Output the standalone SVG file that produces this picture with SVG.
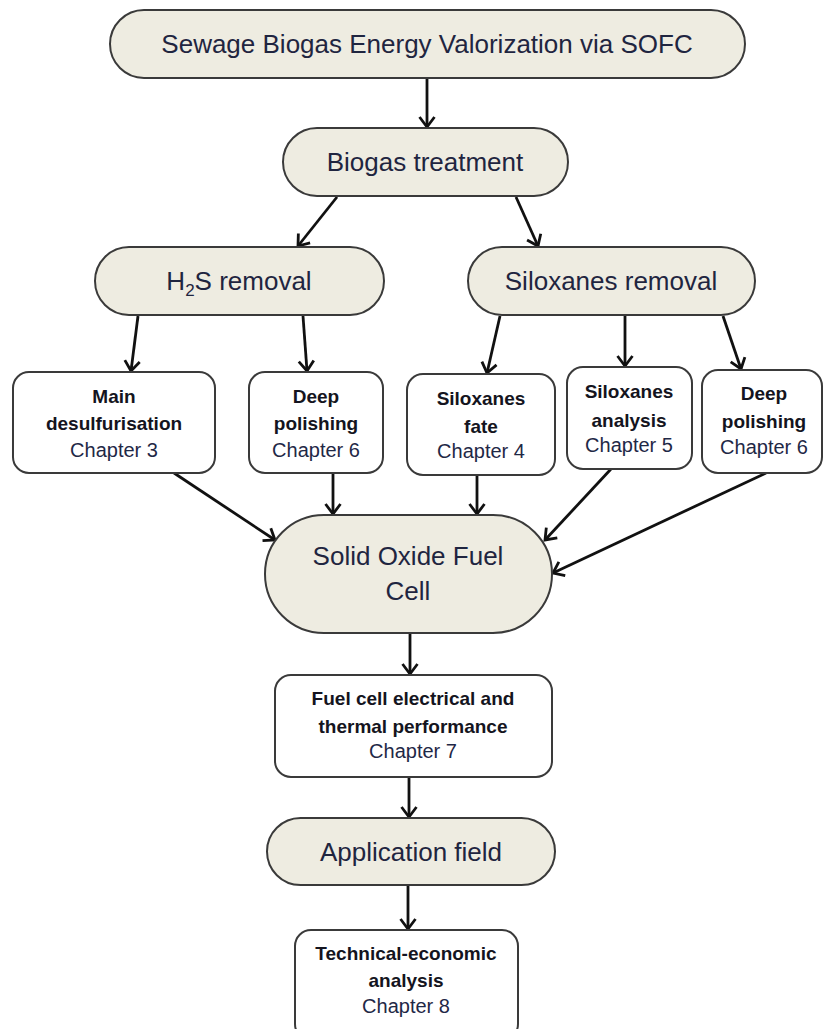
<svg xmlns="http://www.w3.org/2000/svg" width="826" height="1029" viewBox="0 0 826 1029">
<defs>
<style>
.pill{fill:#EEECE1;stroke:#3a3a3a;stroke-width:2}
.box{fill:#ffffff;stroke:#3a3a3a;stroke-width:2}
.big{font-family:"Liberation Sans",Arial,sans-serif;font-size:26px;fill:#1f2540;text-anchor:middle}
.b{font-family:"Liberation Sans",Arial,sans-serif;font-size:19px;font-weight:bold;fill:#141420;text-anchor:middle}
.r{font-family:"Liberation Sans",Arial,sans-serif;font-size:20px;fill:#1f2846;text-anchor:middle}
.c{fill:none;stroke:#111111;stroke-width:2.8;marker-end:url(#ah)}
</style>
<marker id="ah" markerUnits="userSpaceOnUse" markerWidth="22" markerHeight="20" viewBox="0 0 22 20" refX="12" refY="10" orient="auto">
<path d="M2,2.5 L12,10 L2,17.5" fill="none" stroke="#111111" stroke-width="2.8"/>
</marker>
</defs>
<g id="connectors">
<line class="c" x1="427" y1="79" x2="427" y2="127"/>
<line class="c" x1="337" y1="197" x2="298" y2="246"/>
<line class="c" x1="516" y1="197" x2="538" y2="246"/>
<line class="c" x1="138" y1="316" x2="131" y2="371"/>
<line class="c" x1="303" y1="316" x2="307" y2="371"/>
<line class="c" x1="500" y1="316" x2="487" y2="373"/>
<line class="c" x1="625" y1="316" x2="625" y2="366"/>
<line class="c" x1="723" y1="316" x2="741" y2="369"/>
<line class="c" x1="174" y1="473" x2="275" y2="540"/>
<line class="c" x1="333" y1="473" x2="333" y2="514"/>
<line class="c" x1="477" y1="476" x2="477" y2="514"/>
<line class="c" x1="611" y1="469" x2="545" y2="540"/>
<line class="c" x1="766" y1="473" x2="553" y2="573"/>
<line class="c" x1="410" y1="634" x2="410" y2="674"/>
<line class="c" x1="409" y1="778" x2="409" y2="817"/>
<line class="c" x1="408" y1="886" x2="408" y2="929"/>
</g>
<g id="n-top">
<rect class="pill" x="110" y="10" width="635" height="68" rx="34"/>
<text class="big" x="427" y="53">Sewage Biogas Energy Valorization via SOFC</text>
</g>
<g id="n-biogas">
<rect class="pill" x="283" y="128" width="285" height="68" rx="34"/>
<text class="big" x="425" y="171">Biogas treatment</text>
</g>
<g id="n-h2s">
<rect class="pill" x="95" y="247" width="289" height="68" rx="34"/>
<text class="big" x="239" y="290">H<tspan font-size="17" dy="6">2</tspan><tspan dy="-6">S removal</tspan></text>
</g>
<g id="n-siloxanes">
<rect class="pill" x="468" y="247" width="287" height="68" rx="34"/>
<text class="big" x="611" y="290">Siloxanes removal</text>
</g>
<g id="n-main">
<rect class="box" x="13" y="372" width="202" height="101" rx="16"/>
<text class="b" x="114" y="403">Main</text>
<text class="b" x="114" y="430">desulfurisation</text>
<text class="r" x="114" y="457">Chapter 3</text>
</g>
<g id="n-deep1">
<rect class="box" x="249" y="372" width="134" height="101" rx="16"/>
<text class="b" x="316" y="403">Deep</text>
<text class="b" x="316" y="430">polishing</text>
<text class="r" x="316" y="457">Chapter 6</text>
</g>
<g id="n-fate">
<rect class="box" x="407" y="374" width="148" height="101" rx="16"/>
<text class="b" x="481" y="405">Siloxanes</text>
<text class="b" x="481" y="433">fate</text>
<text class="r" x="481" y="458">Chapter 4</text>
</g>
<g id="n-analysis">
<rect class="box" x="567" y="367" width="125" height="102" rx="16"/>
<text class="b" x="629" y="398">Siloxanes</text>
<text class="b" x="629" y="427">analysis</text>
<text class="r" x="629" y="452">Chapter 5</text>
</g>
<g id="n-deep2">
<rect class="box" x="702" y="370" width="120" height="103" rx="16"/>
<text class="b" x="764" y="400">Deep</text>
<text class="b" x="764" y="428">polishing</text>
<text class="r" x="764" y="454">Chapter 6</text>
</g>
<g id="n-sofc">
<rect class="pill" x="265" y="515" width="287" height="118" rx="59"/>
<text class="big" x="408" y="565">Solid Oxide Fuel</text>
<text class="big" x="408" y="600">Cell</text>
</g>
<g id="n-fuelcell">
<rect class="box" x="275" y="675" width="277" height="102" rx="16"/>
<text class="b" x="413" y="705">Fuel cell electrical and</text>
<text class="b" x="413" y="733">thermal performance</text>
<text class="r" x="413" y="758">Chapter 7</text>
</g>
<g id="n-application">
<rect class="pill" x="267" y="818" width="288" height="67" rx="33.5"/>
<text class="big" x="411" y="861" font-size="27">Application field</text>
</g>
<g id="n-tech">
<rect class="box" x="295" y="930" width="223" height="110" rx="16"/>
<text class="b" x="406" y="960">Technical-economic</text>
<text class="b" x="406" y="987">analysis</text>
<text class="r" x="406" y="1013">Chapter 8</text>
</g>
</svg>
